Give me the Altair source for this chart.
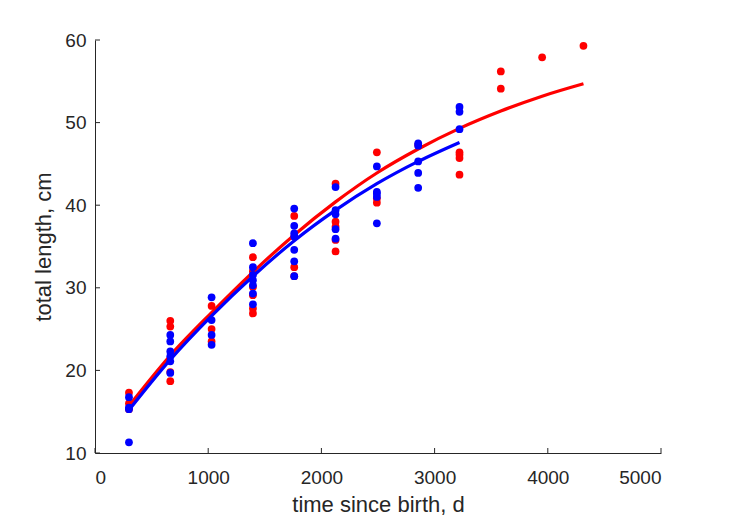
import altair as alt
import pandas as pd

# ---- data ----
red_t = [300, 300, 300,
         665, 665, 665, 665,
         1030, 1030, 1030,
         1395, 1395, 1395, 1395, 1395, 1395,
         1760, 1760, 1760, 1760,
         2125, 2125, 2125, 2125, 2125,
         2490, 2490, 2490,
         2855,
         3220, 3220, 3220, 3220,
         3585, 3585,
         3950,
         4315]
red_L = [17.3, 16.0, 15.3,
         26.0, 25.3, 19.8, 18.7,
         27.8, 25.0, 23.5,
         33.7, 32.0, 30.1, 29.1, 27.5, 26.9,
         38.7, 36.2, 32.5, 31.4,
         42.6, 38.0, 37.4, 35.8, 34.4,
         46.4, 40.8, 40.3,
         47.3,
         46.4, 46.1, 45.7, 43.7,
         56.2, 54.1,
         57.9,
         59.3]

blue_t = [300, 300, 300, 300,
          665, 665, 665, 665, 665, 665,
          1030, 1030, 1030, 1030,
          1395, 1395, 1395, 1395, 1395, 1395, 1395,
          1760, 1760, 1760, 1760, 1760, 1760, 1760,
          2125, 2125, 2125, 2125, 2125,
          2490, 2490, 2490, 2490, 2490,
          2855, 2855, 2855, 2855, 2855,
          3220, 3220, 3220]
blue_L = [16.75, 15.5, 15.3, 11.3,
          24.3, 23.5, 22.3, 21.7, 21.1, 19.7,
          28.85, 26.1, 24.3, 23.1,
          35.4, 32.5, 31.55, 30.9, 30.3, 29.3, 28.0,
          39.6, 37.5, 36.6, 36.2, 34.6, 33.2, 31.4,
          42.2, 39.4, 38.9, 37.1, 35.95,
          44.7, 41.6, 41.4, 41.0, 37.8,
          47.5, 47.2, 45.3, 43.9, 42.1,
          51.9, 51.3, 49.2]

red_curve_t = [300, 665, 1030, 1395, 1760, 2125, 2490, 2855, 3220, 3585, 3950, 4315]
red_curve_L = [15.7, 21.8, 27.0, 31.9, 36.4, 40.4, 43.9, 46.8, 49.3, 51.4, 53.2, 54.7]
blue_curve_t = [300, 665, 1030, 1395, 1760, 2125, 2490, 2855, 3220]
blue_curve_L = [15.2, 21.3, 26.6, 31.4, 35.7, 39.4, 42.6, 45.3, 47.6]

x_ticks = [0, 1000, 2000, 3000, 4000, 5000]
y_ticks = [10, 20, 30, 40, 50, 60]

W, H = 566, 413
FONT = "Liberation Sans"
TXT = "#262626"

red_pts = pd.DataFrame({"t": red_t, "L": red_L})
blue_pts = pd.DataFrame({"t": blue_t, "L": blue_L})
red_cur = pd.DataFrame({"t": red_curve_t, "L": red_curve_L})
blue_cur = pd.DataFrame({"t": blue_curve_t, "L": blue_curve_L})
x_tick_df = pd.DataFrame({"t": x_ticks})
y_tick_df = pd.DataFrame({"L": y_ticks})

xs = alt.Scale(domain=[0, 5000], nice=False, zero=False)
ys = alt.Scale(domain=[10, 60], nice=False, zero=False)

x_axis = alt.Axis(values=x_ticks, ticks=False, grid=False, labelPadding=15,
                  title="time since birth, d", titlePadding=7, format="d")
y_axis = alt.Axis(values=y_ticks, ticks=False, grid=False, labelPadding=9,
                  title="total length, cm", titlePadding=9)

X = alt.X("t:Q", scale=xs, axis=x_axis)
Y = alt.Y("L:Q", scale=ys, axis=y_axis)

rp = alt.Chart(red_pts).mark_circle(size=60, opacity=1, color="#ff0000").encode(x=X, y=Y)
rl = alt.Chart(red_cur).mark_line(strokeWidth=3.2, color="#ff0000", interpolate="monotone").encode(x=X, y=Y)
bp = alt.Chart(blue_pts).mark_circle(size=60, opacity=1, color="#0000ff").encode(x=X, y=Y)
bl = alt.Chart(blue_cur).mark_line(strokeWidth=3.2, color="#0000ff", interpolate="monotone").encode(x=X, y=Y)

xt = alt.Chart(x_tick_df).mark_rule(color=TXT, strokeWidth=1).encode(
    x=X, y=alt.value(H), y2=alt.value(H - 5))
yt = alt.Chart(y_tick_df).mark_rule(color=TXT, strokeWidth=1).encode(
    y=Y, x=alt.value(0), x2=alt.value(5))

chart = alt.layer(rp, rl, bp, bl, xt, yt).properties(
    width=W, height=H,
    background="white",
    padding={"left": 95, "top": 40, "right": 68, "bottom": 68},
    autosize=alt.AutoSizeParams(type="none"),
).configure_view(strokeWidth=0, stroke="transparent").configure_axis(
    domainColor=TXT, domainWidth=1, labelColor=TXT, titleColor=TXT,
    labelFont=FONT, titleFont=FONT, labelFontSize=19, titleFontSize=22,
    titleFontWeight="normal",
)

chart.save("out.html", embed_options={"renderer": "svg", "actions": False})
